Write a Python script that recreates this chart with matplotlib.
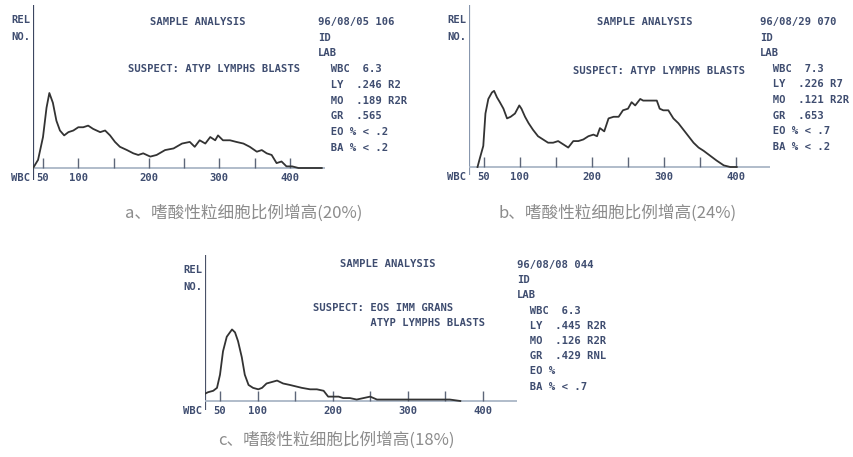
import numpy as np
import matplotlib.pyplot as plt

W, H = 854, 457

# WBC size histograms (channel, relative number; 100 = top of the y axis)
a_chan = [36, 43, 50, 55, 59, 64, 69, 74, 80, 86, 93, 100, 107, 114, 121, 131, 138,
          145, 152, 159, 169, 178, 185, 192, 202, 211, 223, 235, 247, 258, 265, 272,
          280, 287, 294, 298, 305, 315, 324, 334, 343, 353, 360, 367, 374, 381, 388,
          395, 403, 412, 445]
a_rel = [0, 5, 19, 37, 46, 40, 29, 23, 20, 22, 23, 25, 25, 26, 24, 22, 23,
         20, 16, 13, 11, 9, 8, 9, 7, 8, 11, 12, 15, 16, 13, 17,
         15, 19, 17, 20, 17, 17, 16, 15, 13, 10, 11, 9, 8, 3, 4,
         1, 1, 0, 0]

b_chan = [41, 44, 49, 52, 56, 61, 64, 68, 72, 77, 82, 87, 93, 99, 102, 107, 112,
          118, 125, 132, 139, 146, 153, 160, 167, 174, 181, 188, 195, 202, 207, 211,
          217, 223, 230, 237, 243, 250, 255, 260, 267, 271, 276, 283, 290, 294, 299,
          306, 313, 320, 327, 334, 341, 348, 355, 364, 373, 383, 392, 401]
b_rel = [0, 5, 13, 33, 42, 46, 47, 43, 40, 36, 30, 31, 33, 38, 36, 31, 27,
         23, 19, 17, 15, 15, 16, 14, 12, 16, 16, 17, 19, 20, 19, 24,
         22, 30, 31, 31, 35, 36, 40, 38, 42, 41, 41, 41, 41, 36, 35,
         35, 30, 27, 23, 19, 15, 12, 10, 7, 4, 1, 0, 0]

c_chan = [30, 34, 41, 46, 50, 54, 59, 66, 70, 74, 79, 83, 88, 94, 101, 106, 112,
          119, 126, 134, 143, 151, 159, 170, 179, 188, 194, 201, 208, 214, 223, 232,
          241, 250, 259, 267, 281, 294, 312, 330, 347, 356, 370]
c_rel = [5, 6, 7, 9, 18, 34, 44, 49, 47, 41, 30, 18, 11, 9, 8, 9, 12,
         13, 14, 12, 11, 10, 9, 8, 8, 7, 3, 3, 3, 2, 2, 1,
         2, 3, 1, 1, 1, 1, 1, 1, 1, 1, 0]

tick_vals = [50, 100, 150, 200, 250, 300, 350, 400]
tick_labels = ["50", "100", "", "200", "", "300", "", "400"]

a_info = ["96/08/05 106", "ID", "LAB", "  WBC  6.3", "  LY  .246 R2",
          "  MO  .189 R2R", "  GR  .565", "  EO % < .2", "  BA % < .2"]
b_info = ["96/08/29 070", "ID", "LAB", "  WBC  7.3", "  LY  .226 R7",
          "  MO  .121 R2R", "  GR  .653", "  EO % < .7", "  BA % < .2"]
c_info = ["96/08/08 044", "ID", "LAB", "  WBC  6.3", "  LY  .445 R2R",
          "  MO  .126 R2R", "  GR  .429 RNL", "  EO %", "  BA % < .7"]

a_suspect = ["SUSPECT: ATYP LYMPHS BLASTS"]
b_suspect = ["SUSPECT: ATYP LYMPHS BLASTS"]
c_suspect = ["SUSPECT: EOS IMM GRANS", "         ATYP LYMPHS BLASTS"]

captions = ["a、嗜酸性粒细胞比例增高(20%)",
            "b、嗜酸性粒细胞比例增高(24%)",
            "c、嗜酸性粒细胞比例增高(18%)"]

TXT = "#3f4d70"
MONO = dict(family="DejaVu Sans Mono", fontsize=7.6, fontweight="bold", color=TXT)

fig = plt.figure(figsize=(W / 100, H / 100), dpi=100)
fig.patch.set_facecolor("white")


def fx(x):
    return x / W


def fy(y):
    return 1 - y / H


def panel(chan, rel, yx, top, base, bottom, right, t50, ppu, ycol,
          title_xy, suspect, sus_xy, info, info_xy, step):
    # channel value sitting on the y axis and at the right end of the x axis
    v_left = 50 - (t50 - yx) / ppu
    v_right = v_left + (right - yx) / ppu
    unit = (base - top) / 100.0
    ax = fig.add_axes([fx(yx), fy(bottom), (right - yx) / W, (bottom - top) / H])
    ax.set_xlim(v_left, v_right)
    ax.set_ylim(-(bottom - base) / unit, 100)
    ax.axis("off")
    ax.axvline(v_left, color=ycol, lw=1.6)
    ax.axhline(0, color="#aab6c6", lw=1.3)
    ax.vlines(tick_vals, 0, 10 / unit, color="#5d6679", lw=1.0)
    ax.plot(chan, rel, color="#333333", lw=1.3)
    for v, s in zip(tick_vals, tick_labels):
        if s:
            ax.annotate(s, (v, 0), xytext=(0, -7), textcoords="offset points",
                        ha="center", va="center", **MONO)
    ax.annotate("WBC", (v_left, 0), xytext=(-2, -7), textcoords="offset points",
                ha="right", va="center", **MONO)
    fig.text(fx(yx - 2), fy(top + 15), "REL", ha="right", va="center", **MONO)
    fig.text(fx(yx - 2), fy(top + 32), "NO.", ha="right", va="center", **MONO)

    fig.text(fx(title_xy[0]), fy(title_xy[1]), "SAMPLE ANALYSIS",
             ha="center", va="center", **MONO)
    for i, s in enumerate(suspect):
        fig.text(fx(sus_xy[0]), fy(sus_xy[1] + 15 * i), s,
                 ha="left", va="center", **MONO)
    for i, s in enumerate(info):
        fig.text(fx(info_xy[0]), fy(info_xy[1] + step * i), s,
                 ha="left", va="center", **MONO)


panel(a_chan, a_rel, 33, 5, 168, 180, 325, 43, 0.7057, "#3c4660",
      (198, 22), a_suspect, (128, 69), a_info, (318, 22), 15.7)
panel(b_chan, b_rel, 469, 5, 167, 175, 770, 484, 0.72, "#8796ad",
      (645, 22), b_suspect, (573, 71), b_info, (760, 22), 15.6)
panel(c_chan, c_rel, 205, 255, 401, 410, 517, 220, 0.751, "#4a5268",
      (388, 264), c_suspect, (313, 308), c_info, (517, 265), 15.2)

CAP = dict(family=["Noto Sans CJK SC", "DejaVu Sans"], fontsize=12, color="#8c8c8c")
fig.text(fx(362), fy(213), captions[0], ha="right", va="center", **CAP)
fig.text(fx(737), fy(213), captions[1], ha="right", va="center", **CAP)
fig.text(fx(218), fy(440), captions[2], ha="left", va="center", **CAP)

fig.savefig("out.png", dpi=100, facecolor="white")
